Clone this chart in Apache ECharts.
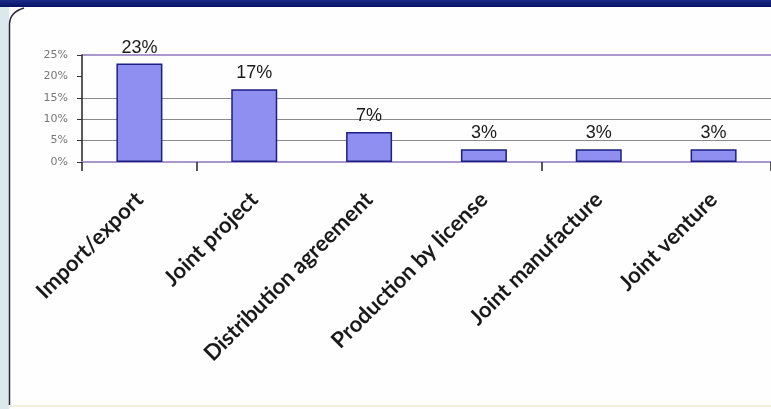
<!DOCTYPE html>
<html>
<head>
<meta charset="utf-8">
<script src="https://cdn.jsdelivr.net/npm/echarts@6/dist/echarts.min.js"></script>
<style>
  html, body { margin: 0; padding: 0; background: #ffffff; }
  #chart { width: 771px; height: 409px; }
</style>
</head>
<body>
<div id="chart"></div>
<script>
// Forms of cooperation, share of respondents (%)
const categories = ['Import/export', 'Joint project', 'Distribution agreement', 'Production by license', 'Joint manufacture', 'Joint venture'];
const shares = [23, 17, 7, 3, 3, 3];
const yTicks = [0, 5, 10, 15, 20, 25];
const gridValues = [5, 10, 15];   // grey guide lines
const frameTop = 25;              // top edge of the plot frame

const chart = echarts.init(document.getElementById('chart'));

const noSymbol = ['none', 'none'];

chart.setOption({
  backgroundColor: '#fefefe',
  animation: false,
  graphic: [
    // slide frame: dark title band, pale left strip, panel edge
    { type: 'rect', shape: { x: 0, y: 0, width: 771, height: 7 },
      style: { fill: new echarts.graphic.LinearGradient(0, 0, 0, 1, [
        { offset: 0, color: '#1a2a86' }, { offset: 1, color: '#061266' }]) } },
    { type: 'rect', shape: { x: 0, y: 7, width: 9, height: 402 }, style: { fill: '#dbe8ec' } },
    { type: 'line', shape: { x1: 9.5, y1: 405, x2: 9.5, y2: 24 },
      style: { stroke: '#2a2a3a', lineWidth: 1.5 } },
    { type: 'bezierCurve', shape: { x1: 9.5, y1: 24, cpx1: 10, cpy1: 12, x2: 24, y2: 8 },
      style: { fill: null, stroke: '#2a2a3a', lineWidth: 1.5 } },
    { type: 'line', shape: { x1: 10, y1: 406, x2: 771, y2: 406 }, style: { stroke: '#f3efe0', lineWidth: 2 } }
  ],
  grid: { left: 82, right: 0, top: 55, bottom: 247, containLabel: false },
  xAxis: {
    type: 'category',
    data: categories,
    boundaryGap: true,
    axisLine: { show: true, lineStyle: { color: '#a898cc', width: 2 } },
    axisTick: {
      show: true, length: 9, alignWithLabel: false,
      interval: (i) => i === 0 || i === 1 || i === 4,
      lineStyle: { color: '#222', width: 1.5 }
    },
    axisLabel: {
      rotate: 45, margin: 34, interval: 0,
      fontFamily: 'Lato', fontWeight: 700, fontSize: 22, color: '#1a1a1a'
    }
  },
  yAxis: {
    type: 'value',
    min: yTicks[0],
    max: yTicks[yTicks.length - 1],
    interval: 5,
    axisLine: { show: true, lineStyle: { color: '#222', width: 1.5 } },
    axisTick: { show: true, length: 5, lineStyle: { color: '#333' } },
    axisLabel: { formatter: '{value}%', fontSize: 11, color: '#777', margin: 14, fontFamily: 'DejaVu Sans' },
    splitLine: { show: false }
  },
  series: [
    {
      // guide lines and frame top, kept under the bars
      type: 'line',
      data: [],
      z: 0,
      silent: true,
      markLine: {
        z: 0,
        silent: true,
        symbol: noSymbol,
        label: { show: false },
        data: gridValues.map(v => ({ yAxis: v, lineStyle: { color: '#8a8a8a', width: 1.2, type: 'solid' } }))
          .concat([{ yAxis: frameTop, lineStyle: { color: '#a898cc', width: 2, type: 'solid' } }])
      }
    },
    {
      type: 'bar',
      data: shares,
      z: 3,
      barWidth: 46,
      itemStyle: { color: '#8e8ff0', borderColor: '#1c2080', borderWidth: 1.5 },
      label: {
        show: true, position: 'top', distance: 7,
        formatter: '{c}%',
        fontFamily: 'Liberation Sans', fontSize: 18, color: '#1a1a1a'
      }
    }
  ]
});
</script>
</body>
</html>
